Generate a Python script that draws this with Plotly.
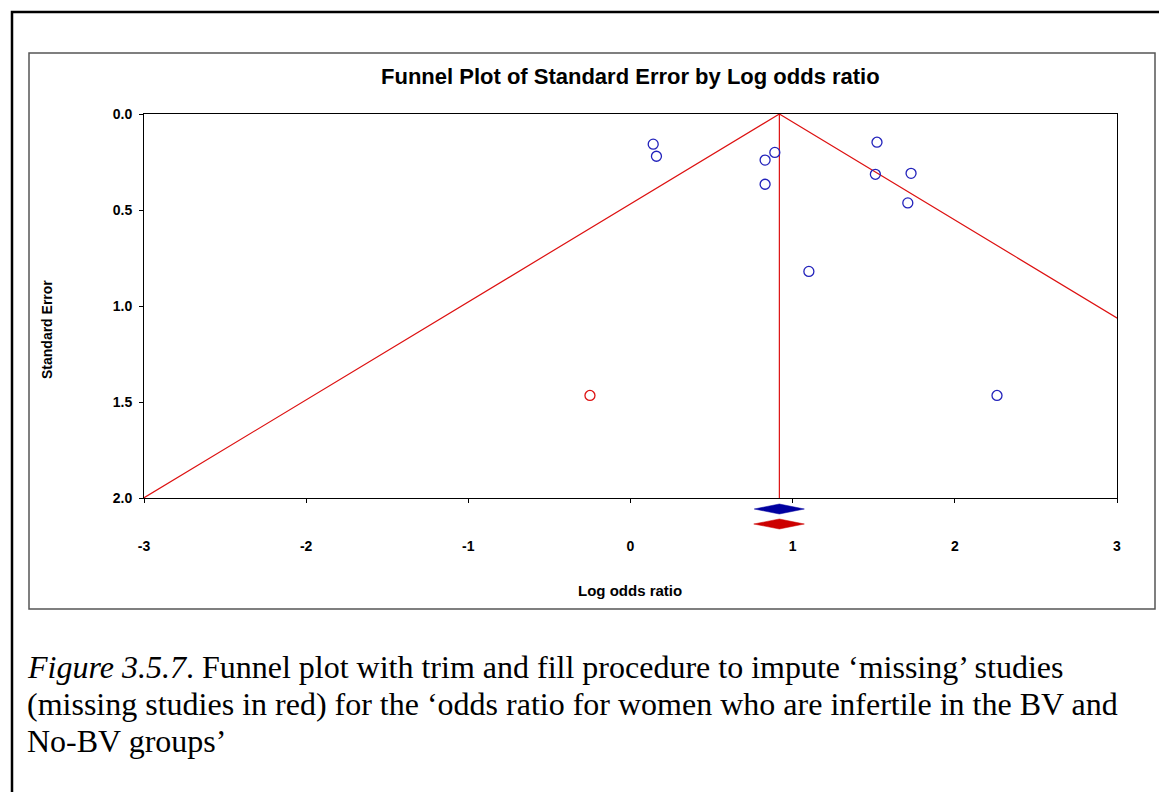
import plotly.graph_objects as go

# Observed studies (log odds ratio, standard error)
obs_lor = [0.14, 0.16, 0.83, 0.89, 0.83, 1.52, 1.51, 1.73, 1.71, 1.10, 2.26]
obs_se = [0.157, 0.22, 0.24, 0.20, 0.366, 0.147, 0.314, 0.309, 0.463, 0.82, 1.466]

# Imputed ("missing") studies from trim and fill
imp_lor = [-0.25]
imp_se = [1.466]

# Combined estimates: [point, lower, upper]
obs_est = [0.918, 0.763, 1.072]
adj_est = [0.918, 0.760, 1.072]

se_max = 2.0
z = 1.96

x_ticks = [-3, -2, -1, 0, 1, 2, 3]
y_ticks = [0.0, 0.5, 1.0, 1.5, 2.0]

caption_lines = [
    "<i>Figure 3.5.7</i>. Funnel plot with trim and fill procedure to impute ‘missing’ studies",
    "(missing studies in red) for the ‘odds ratio for women who are infertile in the BV and",
    "No-BV groups’",
]

RED = "#DD1111"
BLUE = "#2222BB"

OFF = 8  # page body margin
W, H = 1167 - OFF, 792 - OFF

fig = go.Figure()

# Funnel lines
est = adj_est[0]
fig.add_trace(go.Scatter(
    x=[est - z * se_max, est, est + z * se_max],
    y=[se_max, 0.0, se_max],
    mode="lines", line=dict(color=RED, width=1.2), hoverinfo="skip", showlegend=False))
fig.add_trace(go.Scatter(
    x=[est, est], y=[0.0, se_max],
    mode="lines", line=dict(color=RED, width=1.2), hoverinfo="skip", showlegend=False))

fig.add_trace(go.Scatter(
    x=obs_lor, y=obs_se, mode="markers",
    marker=dict(symbol="circle-open", size=10, color=BLUE, line=dict(width=1.3)),
    showlegend=False))
fig.add_trace(go.Scatter(
    x=imp_lor, y=imp_se, mode="markers",
    marker=dict(symbol="circle-open", size=10, color=RED, line=dict(width=1.3)),
    showlegend=False))

# Plot area in screen pixels: l=144, r=1117, t=114, b=498
L, R, T, B = 144, 1117, 114, 498
def px(xpx):
    return (xpx - L) / (R - L)
def py(ypx):
    return (B - ypx) / (B - T)

def diamond(e, yc, hh, color):
    p, lo, hi = e
    return dict(type="path", xref="x", yref="paper",
                path=f"M {lo},{yc} L {p},{yc + hh} L {hi},{yc} L {p},{yc - hh} Z",
                fillcolor=color, line=dict(color=color, width=0.5), layer="above")

shapes = [
    diamond(obs_est, py(509), 5 / (B - T), "#0000A0"),
    diamond(adj_est, py(524), 5 / (B - T), "#CC0000"),
    # inner chart box
    dict(type="rect", xref="paper", yref="paper", x0=px(29), x1=px(1155), y0=py(609), y1=py(53),
         line=dict(color="#555555", width=1.5), layer="below"),
    # outer frame
    dict(type="rect", xref="paper", yref="paper", x0=px(12), x1=px(1200), y0=py(830), y1=py(12),
         line=dict(color="black", width=2.5), layer="below"),
]

SANS = "Liberation Sans, Arial"
annotations = [
    dict(text="<b>Funnel Plot of Standard Error by Log odds ratio</b>", x=px(630), y=py(76),
         xref="paper", yref="paper", showarrow=False, xanchor="center", yanchor="middle",
         font=dict(family=SANS, size=22, color="black")),
    dict(text="<b>Standard Error</b>", x=px(47), y=py(330), xref="paper", yref="paper",
         showarrow=False, textangle=-90, xanchor="center", yanchor="middle",
         font=dict(family=SANS, size=14, color="black")),
    dict(text="<b>Log odds ratio</b>", x=px(630), y=py(590), xref="paper", yref="paper",
         showarrow=False, xanchor="center", yanchor="middle",
         font=dict(family=SANS, size=15, color="black")),
]
for i, line in enumerate(caption_lines):
    annotations.append(dict(
        text=line, x=px(25), y=py(667 + 37 * i), xref="paper", yref="paper", showarrow=False,
        xanchor="left", yanchor="middle", align="left",
        font=dict(family="Liberation Serif, Times New Roman", size=32, color="black")))

fig.update_layout(
    width=W, height=H,
    margin=dict(l=L - OFF, r=1167 - R, t=T - OFF, b=792 - B),
    paper_bgcolor="white", plot_bgcolor="white",
    shapes=shapes, annotations=annotations,
    showlegend=False,
    xaxis=dict(range=[-3, 3], tickvals=x_ticks, ticktext=[str(v) for v in x_ticks],
               showgrid=False, zeroline=False, showline=True, linecolor="black", linewidth=1,
               mirror=True, ticks="outside", ticklen=4, tickcolor="black",
               ticklabelstandoff=31,
               tickfont=dict(family=SANS, size=14, color="black", weight="bold")),
    yaxis=dict(range=[2.0, 0.0], tickvals=y_ticks, ticktext=[f"{v:.1f}" for v in y_ticks],
               showgrid=False, zeroline=False, showline=True, linecolor="black", linewidth=1,
               mirror=True, ticks="outside", ticklen=4, tickcolor="black",
               ticklabelstandoff=4,
               tickfont=dict(family=SANS, size=14, color="black", weight="bold")),
)

fig.write_html("out.html")
